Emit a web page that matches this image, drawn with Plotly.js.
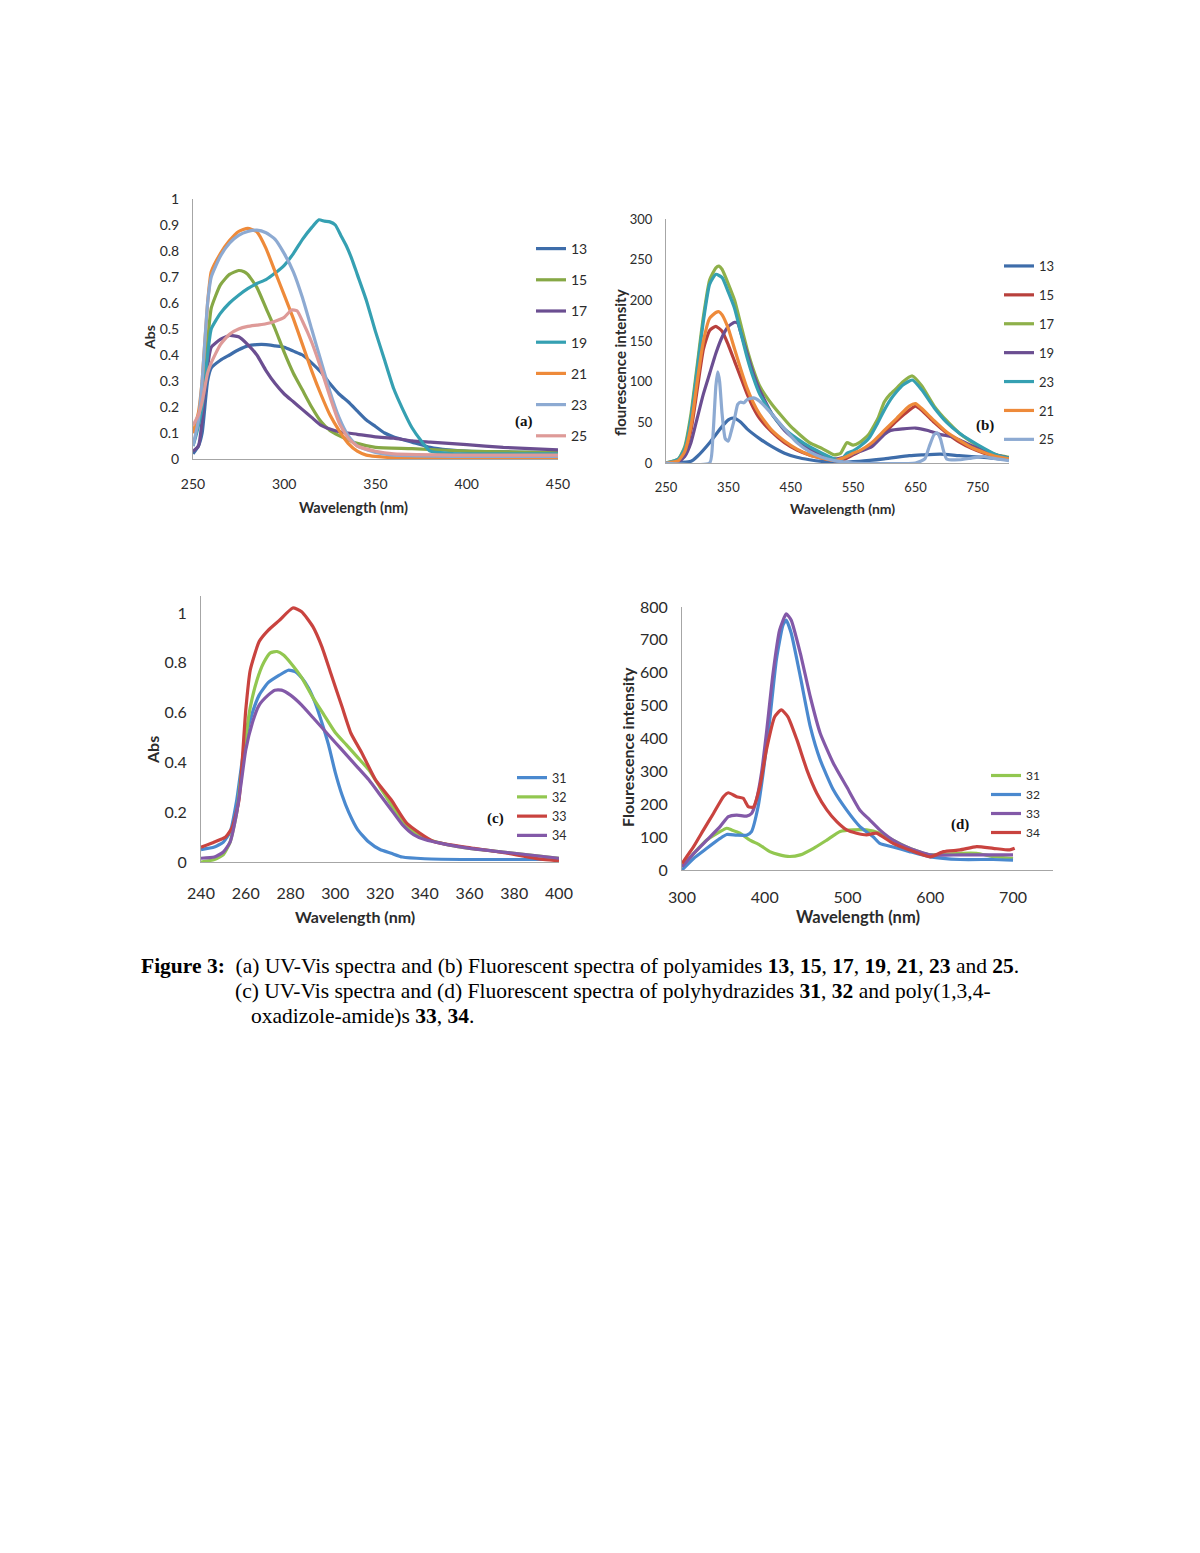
<!DOCTYPE html>
<html><head><meta charset="utf-8">
<script src="https://cdn.plot.ly/plotly-3.0.1.min.js"></script>
<style>html,body{margin:0;padding:0;background:#fff}#plot{width:1200px;height:1553px}</style>
</head><body><div id="plot"></div>
<script>
// ---------- Panel (a): UV-Vis, polyamides ----------
const a13_x = [250,253,255,258,260,265,270,275,280,285,290,295,300,305,310,315,320,325,330,335,340,345,350,355,360,370,380,390,400,425,450];
const a13_y = [0.02,0.05,0.1,0.3,0.35,0.38,0.40,0.42,0.435,0.44,0.44,0.435,0.43,0.415,0.40,0.37,0.335,0.29,0.25,0.22,0.185,0.15,0.125,0.10,0.085,0.065,0.045,0.035,0.03,0.027,0.025];
const a15_x = [250,253,255,258,260,265,270,275,278,280,285,290,295,300,305,310,315,320,325,330,340,350,370,400,450];
const a15_y = [0.1,0.15,0.25,0.45,0.58,0.67,0.71,0.725,0.72,0.71,0.66,0.58,0.50,0.41,0.33,0.265,0.2,0.145,0.11,0.09,0.06,0.045,0.04,0.03,0.025];
const a17_x = [250,253,255,257,260,265,270,275,280,285,290,295,300,305,310,315,320,325,330,340,350,360,370,380,400,420,450];
const a17_y = [0.03,0.05,0.15,0.3,0.43,0.46,0.475,0.47,0.44,0.40,0.34,0.29,0.25,0.22,0.19,0.16,0.13,0.115,0.105,0.095,0.085,0.08,0.07,0.065,0.055,0.045,0.035];
const a19_x = [250,252,255,258,260,265,270,275,280,285,290,295,300,305,310,315,319,322,325,328,331,334,337,340,345,350,355,360,365,370,375,380,390,400,450];
const a19_y = [0.05,0.1,0.2,0.4,0.5,0.56,0.60,0.63,0.655,0.675,0.69,0.715,0.745,0.79,0.845,0.89,0.92,0.915,0.912,0.9,0.86,0.82,0.77,0.71,0.61,0.49,0.38,0.27,0.19,0.12,0.07,0.03,0.022,0.02,0.02];
const a21_x = [250,253,255,258,260,265,270,275,280,285,290,295,300,305,310,315,320,325,330,335,340,345,350,360,400,450];
const a21_y = [0.1,0.18,0.3,0.6,0.72,0.79,0.84,0.875,0.887,0.874,0.81,0.72,0.63,0.54,0.44,0.34,0.25,0.17,0.11,0.06,0.03,0.015,0.01,0.005,0.005,0.005];
const a23_x = [250,253,255,258,260,265,270,275,280,285,290,295,300,305,310,315,320,325,330,335,340,350,360,400,450];
const a23_y = [0.05,0.15,0.3,0.6,0.7,0.78,0.83,0.86,0.875,0.88,0.87,0.845,0.79,0.72,0.62,0.50,0.38,0.26,0.16,0.09,0.05,0.025,0.015,0.01,0.01];
const a25_x = [250,253,255,258,260,265,270,275,280,285,290,295,300,304,307,310,315,320,325,330,335,340,350,360,400,450];
const a25_y = [0.13,0.17,0.22,0.33,0.37,0.44,0.48,0.5,0.51,0.515,0.52,0.53,0.545,0.573,0.57,0.53,0.45,0.35,0.24,0.14,0.08,0.05,0.03,0.02,0.015,0.015];

// ---------- Panel (b): fluorescence, polyamides ----------
const b13_x = [250,290,300,320,340,350,355,360,370,380,400,420,440,460,480,500,520,560,600,640,660,690,720,760,800];
const b13_y = [0,2,8,25,45,53,55,55,50,42,30,20,12,7,4,2,1,2,5,9,10,11,9,7,4];
const b15_x = [250,270,280,290,300,310,320,330,340,350,360,370,380,390,400,420,440,460,480,500,520,540,550,560,580,600,620,640,650,660,680,700,720,740,760,780,800];
const b15_y = [0,3,12,40,90,140,163,168,162,145,125,105,85,68,55,38,25,16,10,6,3,6,10,14,22,37,52,65,70,65,50,37,26,18,12,7,5];
const b17_x = [250,270,280,290,300,310,320,330,335,340,350,360,370,380,390,400,420,450,480,500,520,530,540,550,560,575,590,600,610,620,630,645,660,680,700,720,740,760,780,800];
const b17_y = [0,5,20,60,120,180,225,240,242,238,220,200,170,140,115,95,72,45,25,18,10,12,25,22,25,35,55,75,85,92,100,107,95,70,52,37,26,17,10,7];
const b19_x = [250,270,280,290,300,310,320,330,340,350,360,365,370,380,390,400,420,440,460,480,500,520,540,560,580,600,610,630,650,670,690,710,730,750,770,800];
const b19_y = [0,2,8,25,55,85,110,135,155,168,173,172,160,135,110,90,60,40,27,17,10,5,8,14,20,35,40,42,43,40,35,32,25,18,12,6];
const b23_x = [250,270,280,290,300,310,320,330,340,350,360,370,380,390,400,420,440,460,480,500,520,530,540,550,560,575,590,600,610,620,630,645,660,680,700,720,740,760,780,800];
const b23_y = [0,5,18,55,115,175,220,232,228,210,190,160,130,105,85,60,42,30,20,12,5,3,12,15,20,30,50,65,78,88,96,102,90,68,50,37,27,18,10,6];
const b21_x = [250,270,280,290,300,310,320,330,335,340,350,360,370,380,390,400,420,440,460,480,500,520,540,550,560,580,600,620,640,650,660,680,700,720,740,760,780,800];
const b21_y = [0,3,14,45,100,150,178,185,186,182,165,140,115,92,74,60,40,27,17,10,6,3,8,12,15,25,40,55,70,73,67,52,38,28,19,13,8,5];
const b25_x = [250,320,325,330,333,336,340,345,350,355,360,365,370,375,380,390,400,420,440,460,480,500,520,550,650,665,672,680,685,690,695,700,720,740,760,780,800];
const b25_y = [0,0,30,95,112,100,60,30,27,40,55,72,75,74,78,80,76,60,42,25,14,7,3,0,0,5,20,35,37,30,15,5,4,6,8,5,3];

// ---------- Panel (c): UV-Vis, polyhydrazides / poly(oxadiazole-amide)s ----------
const c31_x = [240,246,250,253,256,258,260,263,266,270,275,279,282,285,288,291,294,297,300,303,306,310,315,320,325,330,340,360,400];
const c31_y = [0.05,0.06,0.08,0.12,0.25,0.38,0.5,0.6,0.67,0.72,0.75,0.77,0.765,0.74,0.70,0.64,0.56,0.47,0.36,0.27,0.20,0.13,0.08,0.05,0.035,0.02,0.013,0.01,0.01];
const c32_x = [240,246,250,253,256,258,260,262,265,268,271,274,277,280,285,290,295,300,305,310,315,320,325,330,335,340,350,360,370,380,390,400];
const c32_y = [0.0,0.01,0.03,0.08,0.2,0.35,0.5,0.62,0.73,0.80,0.84,0.845,0.83,0.80,0.74,0.66,0.59,0.52,0.47,0.42,0.37,0.30,0.23,0.16,0.12,0.095,0.07,0.055,0.045,0.035,0.025,0.015];
const c33_x = [240,246,251,254,257,260,262,266,270,275,281,285,290,294,298,303,307,312,318,325,332,344,362,377,392,400];
const c33_y = [0.059,0.08,0.1,0.14,0.25,0.61,0.77,0.885,0.93,0.97,1.02,1.005,0.945,0.865,0.758,0.624,0.517,0.436,0.33,0.25,0.155,0.082,0.055,0.035,0.011,0.005];
const c34_x = [240,246,250,253,256,258,260,263,266,270,273,276,280,285,290,295,300,305,310,315,320,325,330,335,340,350,360,370,380,390,400];
const c34_y = [0.015,0.02,0.04,0.08,0.2,0.32,0.45,0.56,0.63,0.67,0.69,0.69,0.67,0.63,0.58,0.53,0.48,0.43,0.38,0.33,0.27,0.21,0.15,0.11,0.09,0.07,0.055,0.045,0.035,0.025,0.015];

// ---------- Panel (d): fluorescence ----------
const d31_x = [300,314,330,346,354,360,370,382,394,406,418,430,443,459,475,491,507,523,539,555,575,600,636,656,676,700];
const d31_y = [10,50,91,117,127,122,112,91,76,56,46,41,46,66,91,117,122,122,112,91,66,46,51,51,41,35];
const d32_x = [300,314,330,346,354,366,378,384,392,398,406,414,422,426,432,443,455,467,483,499,515,531,539,555,575,600,636,676,700];
const d32_y = [0,35,66,96,108,106,106,117,193,294,456,639,745,760,720,588,436,335,243,182,132,101,81,70,56,40,32,32,30];
const d33_x = [300,314,330,346,356,366,378,384,390,396,402,410,418,426,432,443,455,467,483,499,515,527,539,555,575,600,636,676,700];
const d33_y = [10,50,91,132,162,167,164,172,213,294,416,598,730,779,760,659,527,416,324,253,182,152,122,91,66,46,46,46,46];
const d34_x = [300,314,326,338,350,356,366,374,380,386,394,402,412,420,428,439,451,463,475,487,499,511,523,535,555,575,600,616,636,656,676,696,702];
const d34_y = [20,71,122,172,223,235,223,218,193,191,253,365,466,487,466,395,304,233,183,147,122,112,107,112,81,61,40,56,61,71,66,61,66];

const C2 = {blue:'#4A89CF', red:'#C9433F', green:'#92C750', purple:'#8359A8'};

const LW = 3.2;
function tr(x, y, name, color, xa, ya, lg){
  return {x:x, y:y, name:name, type:'scatter', mode:'lines', line:{color:color, width:LW, shape:'spline', smoothing:0.5},
          xaxis:xa, yaxis:ya, legend:lg, legendgroup:lg+name, hoverinfo:'skip'};
}
const data = [
  tr(a13_x,a13_y,'13','#3E6DAA','x','y','legend'),
  tr(a15_x,a15_y,'15','#86A845','x','y','legend'),
  tr(a17_x,a17_y,'17','#6B4E91','x','y','legend'),
  tr(a19_x,a19_y,'19','#35A0B2','x','y','legend'),
  tr(a21_x,a21_y,'21','#EE8A3A','x','y','legend'),
  tr(a23_x,a23_y,'23','#8DAAD2','x','y','legend'),
  tr(a25_x,a25_y,'25','#DE9A98','x','y','legend'),

  tr(b13_x,b13_y,'13','#3E6DAA','x2','y2','legend2'),
  tr(b15_x,b15_y,'15','#B8403C','x2','y2','legend2'),
  tr(b17_x,b17_y,'17','#8EB04A','x2','y2','legend2'),
  tr(b19_x,b19_y,'19','#6B4E91','x2','y2','legend2'),
  tr(b23_x,b23_y,'23','#35A0B2','x2','y2','legend2'),
  tr(b21_x,b21_y,'21','#EE8A3A','x2','y2','legend2'),
  tr(b25_x,b25_y,'25','#8DAAD2','x2','y2','legend2'),

  tr(c31_x,c31_y,'31',C2.blue,'x3','y3','legend3'),
  tr(c32_x,c32_y,'32',C2.green,'x3','y3','legend3'),
  tr(c33_x,c33_y,'33',C2.red,'x3','y3','legend3'),
  tr(c34_x,c34_y,'34',C2.purple,'x3','y3','legend3'),

  tr(d31_x,d31_y,'31',C2.green,'x4','y4','legend4'),
  tr(d32_x,d32_y,'32',C2.blue,'x4','y4','legend4'),
  tr(d33_x,d33_y,'33',C2.purple,'x4','y4','legend4'),
  tr(d34_x,d34_y,'34',C2.red,'x4','y4','legend4'),
];

const H = 1553, W = 1200;
const px = v => v / W;
const py = v => 1 - v / H;
const FONT = 'Lato, "Open Sans", sans-serif';
const TXT = '#2b2b2b';
const AX = '#A6A6A6';

function xax(domain, range, dtick, size, anchor, standoff){
  return {domain:domain, range:range, dtick:dtick, tick0:range[0], anchor:anchor, showgrid:false, zeroline:false,
          showline:true, linecolor:AX, linewidth:1, ticks:'outside', ticklen:4, tickcolor:'rgba(0,0,0,0)',
          ticklabelstandoff:standoff, tickfont:{family:FONT, size:size, color:TXT}, fixedrange:true};
}
function yax(domain, range, dtick, size, anchor){
  return {domain:domain, range:range, dtick:dtick, tick0:0, anchor:anchor, showgrid:false, zeroline:false,
          showline:true, linecolor:AX, linewidth:1, ticks:'outside', ticklen:4, tickcolor:'rgba(0,0,0,0)',
          ticklabelstandoff:6, tickfont:{family:FONT, size:size, color:TXT}, fixedrange:true};
}
function leg(xp, yp, size, gap){
  return {x:px(xp), y:py(yp), xanchor:'left', yanchor:'top', bgcolor:'rgba(0,0,0,0)', borderwidth:0,
          font:{family:FONT, size:size, color:TXT}, tracegroupgap:gap, itemwidth:30, traceorder:'grouped'};
}
function ann(text, x, y, size, opts){
  return Object.assign({text:text, x:px(x), y:py(y), xref:'paper', yref:'paper', showarrow:false,
    xanchor:'center', yanchor:'middle', font:{family:FONT, size:size, color:TXT}}, opts||{});
}
const TNR = '"Liberation Serif", "Times New Roman", serif';
const capFont = {family:TNR, size:21.5, color:'#000'};
const labFont = {family:TNR, size:15, color:'#111'};

const layout = {
  width:W, height:H, margin:{l:0,r:0,t:0,b:0}, paper_bgcolor:'#fff', plot_bgcolor:'rgba(0,0,0,0)',
  showlegend:true,
  xaxis: xax([px(193), px(558)], [250,450], 50, 14, 'y', 8),
  yaxis: yax([py(459), py(199)], [0,1], 0.1, 14, 'x'),
  xaxis2: xax([px(666), px(1009)], [250,800], 100, 13, 'y2', 8),
  yaxis2: yax([py(463), py(219)], [0,300], 50, 13, 'x2'),
  xaxis3: xax([px(201), px(559)], [240,400], 20, 16, 'y3', 13),
  yaxis3: yax([py(862), py(596)], [0,1.068], 0.2, 16, 'x3'),
  xaxis4: xax([px(682), px(1053)], [300,748.3], 100, 16, 'y4', 9),
  yaxis4: yax([py(870), py(607)], [0,800], 100, 16, 'x4'),
  legend: leg(531, 233, 14, 10),
  legend2: leg(999, 251, 13, 9),
  legend3: leg(512, 763, 12.5, 0),
  legend4: leg(986, 761, 12, 0),
  annotations: [
    ann('<b>Wavelength (nm)</b>', 353, 507, 14.5),
    ann('<b>Abs</b>', 149, 338, 14, {textangle:-90}),
    ann('<b>Wavelength (nm)</b>', 842, 508, 14),
    ann('<b>flourescence intensity</b>', 620, 363, 15, {textangle:-90}),
    ann('<b>Wavelength (nm)</b>', 355, 916, 16),
    ann('<b>Abs</b>', 153, 750, 16, {textangle:-90}),
    ann('<b>Wavelength (nm)</b>', 858, 917, 16.5),
    ann('<b>Flourescence intensity</b>', 627, 747, 16, {textangle:-90}),
    ann('<b>(a)</b>', 524, 421, 15, {font:labFont}),
    ann('<b>(b)</b>', 985, 425, 15, {font:labFont}),
    ann('<b>(c)</b>', 495, 818, 15, {font:labFont}),
    ann('<b>(d)</b>', 960, 824, 15, {font:labFont}),
    ann('<b>Figure 3:</b>  (a) UV-Vis spectra and (b) Fluorescent spectra of polyamides <b>13</b>, <b>15</b>, <b>17</b>, <b>19</b>, <b>21</b>, <b>23</b> and <b>25</b>.',
        139, 966, 21.5, {xanchor:'left', font:capFont}),
    ann('(c) UV-Vis spectra and (d) Fluorescent spectra of polyhydrazides <b>31</b>, <b>32</b> and poly(1,3,4-',
        233, 991, 21.5, {xanchor:'left', font:capFont}),
    ann('oxadizole-amide)s <b>33</b>, <b>34</b>.',
        249, 1016, 21.5, {xanchor:'left', font:capFont}),
  ]
};
Plotly.newPlot('plot', data, layout, {staticPlot:true, displayModeBar:false});
</script>
</body></html>
